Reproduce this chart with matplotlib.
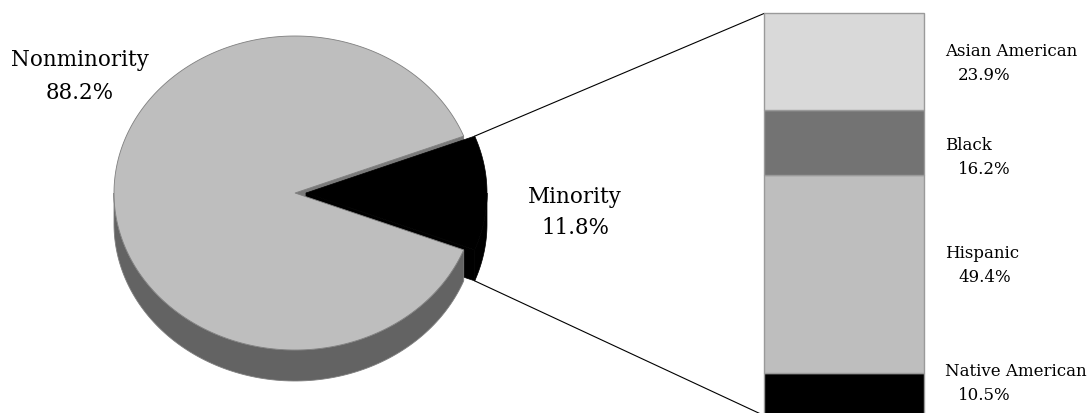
import numpy as np
import matplotlib.pyplot as plt

pie_labels = ['Nonminority', 'Minority']
pie_shares = [88.2, 11.8]

groups = ['Asian American', 'Black', 'Hispanic', 'Native American']
group_shares = [23.9, 16.2, 49.4, 10.5]
group_colors = ['#d9d9d9', '#737373', '#bebebe', '#000000']

plt.rcParams['font.family'] = ['DejaVu Serif']

fig = plt.figure(figsize=(10.89, 4.13), dpi=100)
ax = fig.add_axes([0, 0, 1, 1])
ax.set_xlim(0, 1089)
ax.set_ylim(413, 0)
ax.axis('off')

# pie geometry (pixel units of the main axes)
cx, cy = 295, 193
a, b = 181, 157
depth = 31
explode = 11

half = pie_shares[1] / 100 * 360 / 2
t_lo, t_hi = -half, half


def rim(theta, z=0, dx=0):
    t = np.radians(theta)
    return np.column_stack([cx + dx + a * np.cos(t), cy - b * np.sin(t) + z])


def side(t0, t1, dx=0):
    th = np.linspace(t0, t1, 120)
    top = rim(th, 0, dx)
    bot = rim(th[::-1], depth, dx)
    return np.vstack([top, bot])


def cut(theta, dx=0):
    p = rim(np.array([theta]), 0, dx)[0]
    q = rim(np.array([theta]), depth, dx)[0]
    return np.array([[cx + dx, cy], p, q, [cx + dx, cy + depth]])


def top(t0, t1, dx=0):
    th = np.linspace(t0, t1, 300)
    return np.vstack([[cx + dx, cy], rim(th, 0, dx)])


edge = dict(edgecolor='#7f7f7f', linewidth=0.6)
solid = dict(facecolor='black', edgecolor='black', linewidth=0.5)

# faces below the top, back to front
ax.add_patch(plt.Polygon(cut(t_hi), closed=True, facecolor='#7a7a7a', edgecolor='#7a7a7a', lw=0.5))
ax.add_patch(plt.Polygon(cut(t_lo, explode), closed=True, **solid))
ax.add_patch(plt.Polygon(side(180, 360 + t_lo), closed=True, facecolor='#636363', **edge))
ax.add_patch(plt.Polygon(side(t_lo, 0, explode), closed=True, **solid))
ax.add_patch(plt.Polygon(top(t_hi, 360 + t_lo), closed=True, facecolor='#bebebe', **edge))
ax.add_patch(plt.Polygon(top(t_lo, t_hi, explode), closed=True, **solid))

# stacked bar breaking down the minority share
bar_ax = fig.add_axes([764 / 1089, 1 - 415.5 / 413, 160 / 1089, 402 / 413])
bar_ax.set_xlim(-0.5, 0.5)
bar_ax.set_ylim(0, 100)
bar_ax.axis('off')
bottom = 0
for name, val, col in zip(groups[::-1], group_shares[::-1], group_colors[::-1]):
    bar_ax.bar(0, val, bottom=bottom, width=1, color=col, edgecolor='#9a9a9a', linewidth=1, clip_on=False)
    bottom += val

# connector lines from the exploded slice to the bar corners
to_px = bar_ax.transData + ax.transData.inverted()
bar_tl = to_px.transform((-0.5, sum(group_shares)))
bar_bl = to_px.transform((-0.5, 0))
p_top = rim(np.array([t_hi]), 0, explode)[0]
p_bot = rim(np.array([t_lo]), depth, explode)[0]
ax.plot([p_top[0], bar_tl[0]], [p_top[1], bar_tl[1]], color='black', lw=0.8, zorder=0)
ax.plot([p_bot[0], bar_bl[0]], [p_bot[1], bar_bl[1]], color='black', lw=0.8, zorder=0)

# pie labels
ax.text(80, 60, pie_labels[0], ha='center', va='center', fontsize=15.5)
ax.text(80, 93, f'{pie_shares[0]:.1f}%', ha='center', va='center', fontsize=15.5)
ax.text(575, 197, pie_labels[1], ha='center', va='center', fontsize=15.5)
ax.text(575, 228, f'{pie_shares[1]:.1f}%', ha='center', va='center', fontsize=15.5)

# bar labels
label_y = [64, 157, 265, 384]
for name, val, y in zip(groups, group_shares, label_y):
    ax.text(945, y - 12, name, ha='left', va='center', fontsize=12)
    ax.text(958, y + 12, f'{val:.1f}%', ha='left', va='center', fontsize=12)

fig.savefig('out.png', dpi=100)
